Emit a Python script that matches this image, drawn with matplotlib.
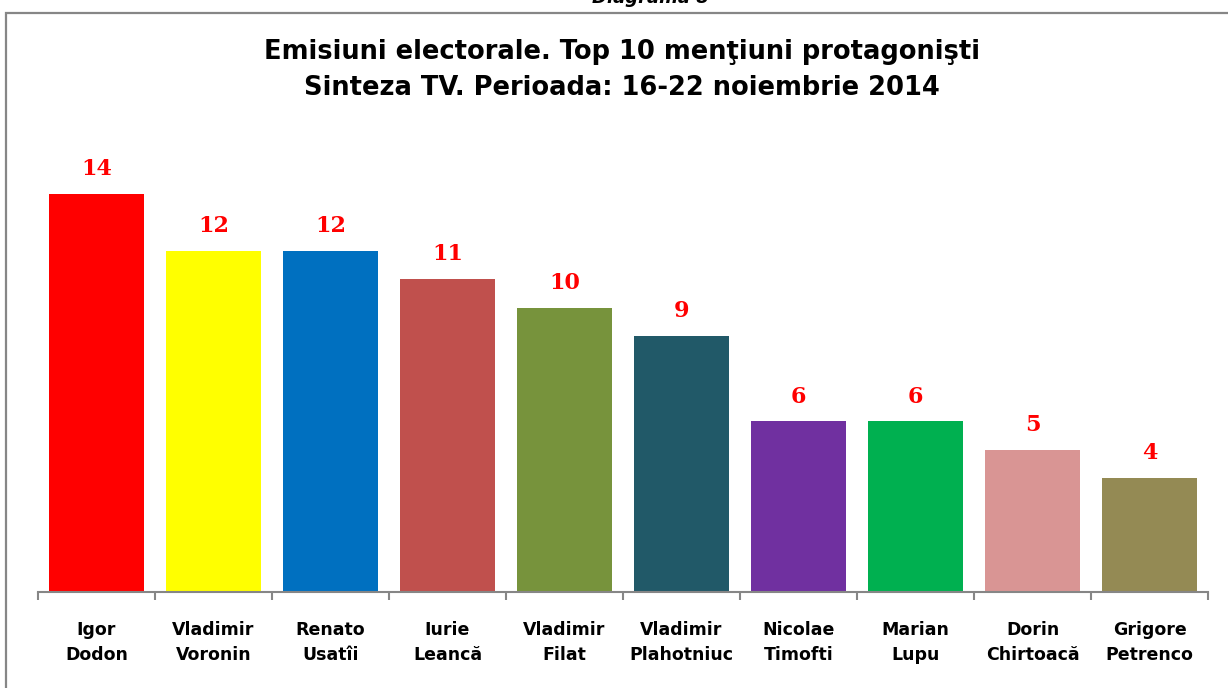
import matplotlib.pyplot as plt
from matplotlib.patches import Rectangle

names = ["Igor\nDodon", "Vladimir\nVoronin", "Renato\nUsatîi", "Iurie\nLeancă",
         "Vladimir\nFilat", "Vladimir\nPlahotniuc", "Nicolae\nTimofti",
         "Marian\nLupu", "Dorin\nChirtoacă", "Grigore\nPetrenco"]
mentions = [14, 12, 12, 11, 10, 9, 6, 6, 5, 4]
colors = ["#FF0000", "#FFFF00", "#0070C0", "#C0504D", "#77933C",
          "#215968", "#7030A0", "#00B050", "#D99594", "#948A54"]

W, H = 1228, 688
fig = plt.figure(figsize=(W / 100, H / 100), dpi=100)

# outer frame (cut at right/bottom like the source)
fig.patches.append(Rectangle((6 / W, -0.05), 1.1, 1.05 - 13 / H,
                             transform=fig.transFigure, fill=False,
                             edgecolor="#868686", linewidth=1.6))

fig.text(0.53, 1 - 7 / H, "Diagrama 8", ha="center", va="bottom",
         fontsize=13, fontweight="bold", fontstyle="italic")

fig.text(622 / W, 1 - 52 / H, "Emisiuni electorale. Top 10 menţiuni protagonişti",
         ha="center", va="center", fontsize=18.5, fontweight="bold")
fig.text(622 / W, 1 - 88 / H, "Sinteza TV. Perioada: 16-22 noiembrie 2014",
         ha="center", va="center", fontsize=18.5, fontweight="bold")

ax = fig.add_axes([38 / W, 1 - 592 / H, (1208 - 38) / W, (592 - 130) / H])
x = list(range(len(names)))
bars = ax.bar(x, mentions, width=0.82, color=colors)

for b, v in zip(bars, mentions):
    ax.annotate(str(v), (b.get_x() + b.get_width() / 2, v),
                xytext=(0, 10), textcoords="offset points",
                ha="center", va="bottom", color="#FF0000",
                fontsize=16, fontweight="bold", family="DejaVu Serif")

ax.set_xlim(-0.5, len(names) - 0.5)
ax.set_ylim(0, 16.25)
for s in ["top", "right", "left"]:
    ax.spines[s].set_visible(False)
ax.spines["bottom"].set_color("#868686")
ax.spines["bottom"].set_linewidth(1.5)
ax.set_yticks([])

ax.set_xticks([i - 0.5 for i in range(len(names) + 1)])
ax.set_xticklabels([])
ax.tick_params(axis="x", length=6, width=1.5, color="#868686")
ax.set_xticks(x, minor=True)
ax.set_xticklabels(names, minor=True, fontsize=12.5, fontweight="bold",
                   linespacing=1.5)
ax.tick_params(axis="x", which="minor", length=0, pad=21)

fig.savefig("out.png", dpi=100)
